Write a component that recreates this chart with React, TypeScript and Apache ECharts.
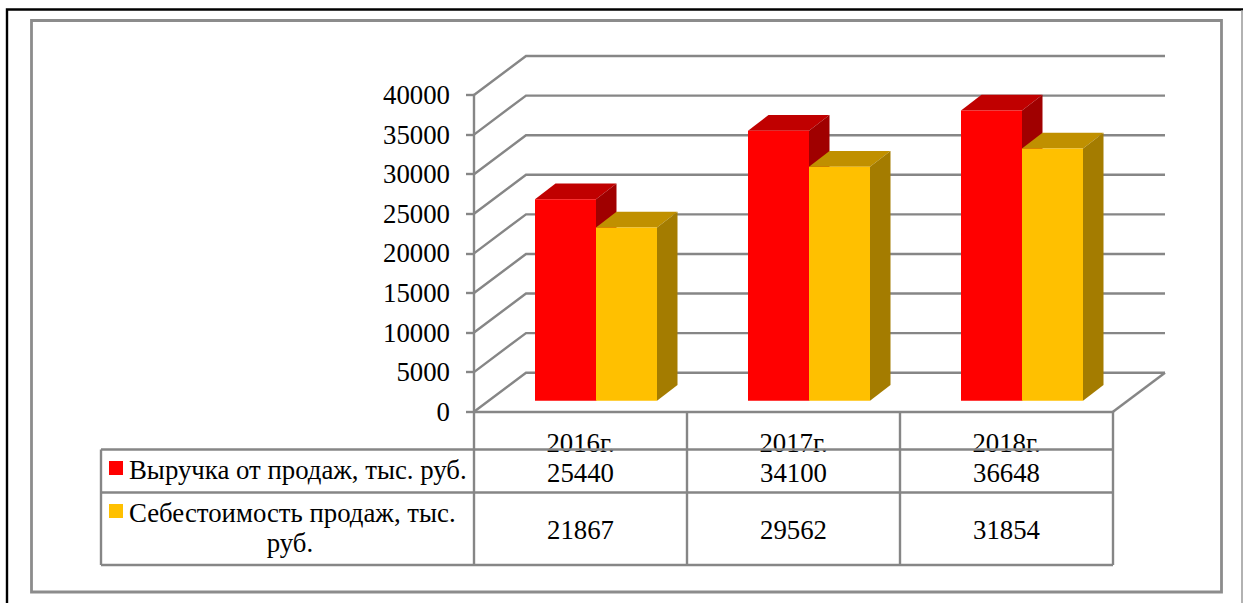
import React, { useEffect, useRef } from "react";
import * as echarts from "echarts";

const categories = ["2016г.", "2017г.", "2018г."];
const yTicks = [0, 5000, 10000, 15000, 20000, 25000, 30000, 35000, 40000];
const revenueName = "Выручка от продаж, тыс. руб.";
const costNameLine1 = "Себестоимость продаж, тыс.";
const costNameLine2 = "руб.";
const revenue = [25440, 34100, 36648];
const cost = [21867, 29562, 31854];

const FONT = "'Liberation Serif', 'Times New Roman', serif";
const FS = 26.8;
const GRAY = "#868686";
const W = 1243;
const H = 603;
const GRID = { left: 474, top: 95, width: 639, height: 316.7 };
const WALL = { dx: 52, dy: -39 };
const GAP = { dx: 15.5, dy: -11 };
const BAR = { w: 61, dx: 20.5, dy: -15.7 };
const LW = 2.4;

const barColors = [
  { front: "#FF0000", top: "#C00000", side: "#A00000" },
  { front: "#FFC000", top: "#C09000", side: "#A47C00" },
];

function barRenderer(seriesPos: number) {
  return (_params: any, api: any) => {
    const idx = api.value(0);
    const top = api.coord([idx, api.value(1)]);
    const base = api.coord([idx, 0]);
    const c = barColors[seriesPos];
    const x0 = top[0] + GAP.dx + (seriesPos - 1) * BAR.w;
    const x1 = x0 + BAR.w;
    const yt = top[1] + GAP.dy;
    const yb = base[1] + GAP.dy;
    return {
      type: "group",
      children: [
        {
          type: "polygon",
          shape: { points: [[x0, yt], [x1, yt], [x1 + BAR.dx, yt + BAR.dy], [x0 + BAR.dx, yt + BAR.dy]] },
          style: { fill: c.top },
        },
        {
          type: "polygon",
          shape: { points: [[x1, yt], [x1 + BAR.dx, yt + BAR.dy], [x1 + BAR.dx, yb + BAR.dy], [x1, yb]] },
          style: { fill: c.side },
        },
        { type: "rect", shape: { x: x0, y: yt, width: BAR.w, height: yb - yt }, style: { fill: c.front } },
      ],
    };
  };
}

function wallRenderer(params: any, api: any) {
  const y = api.coord([0, api.value(0)])[1];
  const x = params.coordSys.x;
  const w = params.coordSys.width;
  const children: any[] = [
    {
      type: "polyline",
      shape: { points: [[x, y], [x + WALL.dx, y + WALL.dy], [x + w + WALL.dx, y + WALL.dy]] },
      style: { stroke: GRAY, lineWidth: LW, fill: "none" },
    },
  ];
  if (api.value(0) === 0) {
    children.push({
      type: "line",
      shape: { x1: x + w, y1: y, x2: x + w + WALL.dx, y2: y + WALL.dy },
      style: { stroke: GRAY, lineWidth: LW },
    });
  }
  return { type: "group", children };
}

function tableGraphics() {
  const xL = 101;
  const xA = GRID.left;
  const xR = GRID.left + GRID.width;
  const cw = GRID.width / categories.length;
  const yFloor = GRID.top + GRID.height;
  const y1 = 449.5;
  const y2 = 492.5;
  const y3 = 565;
  const line = (x1: number, yy1: number, x2: number, yy2: number) => ({
    type: "line",
    z: 12,
    shape: { x1, y1: yy1, x2, y2: yy2 },
    style: { stroke: GRAY, lineWidth: LW },
  });
  const text = (t: string, x: number, baseline: number, align: string) => ({
    type: "text",
    z: 13,
    x,
    y: baseline - 8.5,
    style: { text: t, font: `${FS}px ${FONT}`, fill: "#000", align, verticalAlign: "middle" },
  });
  const els: any[] = [
    { type: "rect", z: -2, shape: { x: 7, y: 9.5, width: W + 20, height: H + 20 }, style: { fill: "#fff", stroke: "#000", lineWidth: 2.4 } },
    { type: "line", z: -1, shape: { x1: 1242, y1: 10, x2: 1242, y2: H }, style: { stroke: "#999", lineWidth: 1.5 } },
    { type: "rect", z: -1, shape: { x: 31.5, y: 20.5, width: 1190, height: 571.5 }, style: { fill: "#fff", stroke: "#8c8c8c", lineWidth: 2.8 } },
    line(xL, y1, xR, y1),
    line(xL, y2, xR, y2),
    line(xL, y3, xR, y3),
    line(xL, y1, xL, y3),
    { type: "rect", z: 13, shape: { x: 109, y: 461, width: 14, height: 14 }, style: { fill: barColors[0].front } },
    { type: "rect", z: 13, shape: { x: 109, y: 504, width: 14, height: 14 }, style: { fill: barColors[1].front } },
    text(revenueName, 129, 478, "left"),
    text(costNameLine1, 129, 521, "left"),
    text(costNameLine2, 290, 551, "center"),
  ];
  for (let i = 0; i <= categories.length; i++) {
    els.push(line(xA + i * cw, yFloor, xA + i * cw, y3));
  }
  categories.forEach((_, i) => {
    const cx = xA + (i + 0.5) * cw;
    els.push(text(String(revenue[i]), cx, 481, "center"));
    els.push(text(String(cost[i]), cx, 538, "center"));
  });
  return els;
}

export default function App() {
  const ref = useRef<HTMLDivElement>(null);
  useEffect(() => {
    document.body.style.margin = "0";
    const chart = echarts.init(ref.current!, undefined, { renderer: "svg" });
    chart.setOption({
      animation: false,
      backgroundColor: "#fff",
      textStyle: { fontFamily: FONT },
      grid: { ...GRID, containLabel: false },
      xAxis: {
        type: "category",
        data: categories,
        axisTick: { show: false },
        axisLine: { show: true, lineStyle: { color: GRAY, width: LW } },
        axisLabel: { color: "#000", fontSize: FS, fontFamily: FONT, margin: 18 },
      },
      yAxis: {
        type: "value",
        min: 0,
        max: 40000,
        interval: 5000,
        splitLine: { show: false },
        axisTick: { show: true, length: 8, lineStyle: { color: GRAY, width: LW } },
        axisLine: { show: true, lineStyle: { color: GRAY, width: LW } },
        axisLabel: {
          color: "#000",
          fontSize: FS,
          fontFamily: FONT,
          margin: 24,
          formatter: (v: number) => String(v),
        },
      },
      graphic: { elements: tableGraphics() },
      series: [
        {
          type: "custom",
          name: "wall",
          coordinateSystem: "cartesian2d",
          z: 2,
          silent: true,
          clip: false,
          data: yTicks.map((v) => [v]),
          encode: { y: 0 },
          renderItem: wallRenderer,
        },
        {
          type: "custom",
          name: revenueName,
          coordinateSystem: "cartesian2d",
          z: 3,
          clip: false,
          data: revenue.map((v, i) => [i, v]),
          encode: { x: 0, y: 1 },
          renderItem: barRenderer(0),
        },
        {
          type: "custom",
          name: costNameLine1 + " " + costNameLine2,
          coordinateSystem: "cartesian2d",
          z: 4,
          clip: false,
          data: cost.map((v, i) => [i, v]),
          encode: { x: 0, y: 1 },
          renderItem: barRenderer(1),
        },
      ],
    });
    return () => chart.dispose();
  }, []);
  return <div ref={ref} style={{ width: W, height: H }} />;
}
